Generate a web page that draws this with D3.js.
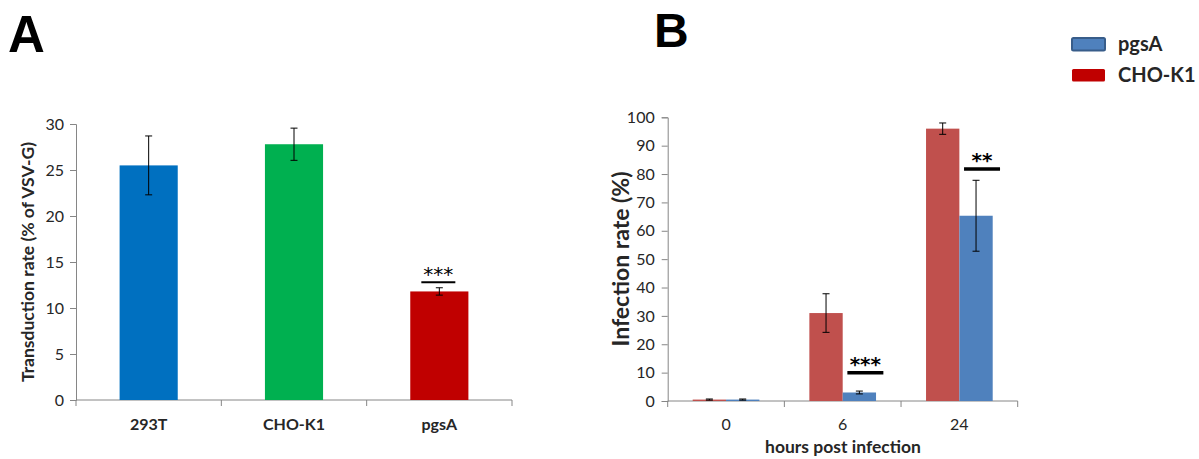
<!DOCTYPE html>
<html>
<head>
<meta charset="utf-8">
<script src="https://cdn.jsdelivr.net/npm/d3@7"></script>
<style>
  body { margin: 0; background: #fff; }
  svg { display: block; font-family: Lato, "Open Sans", sans-serif; }
</style>
</head>
<body>
<div class="chart"></div>
<script>
// panel A data
var cellLines = ["293T", "CHO-K1", "pgsA"];
var transduction = [25.5, 27.8, 11.8];
var transductionErr = [3.2, 1.75, 0.4];
var cellColors = ["#0070C0", "#00B050", "#C00000"];
var ticksA = [0, 5, 10, 15, 20, 25, 30];

// panel B data
var hours = ["0", "6", "24"];
var seriesB = ["CHO-K1", "pgsA"];
var choRate = [0.5, 31, 96];
var choErr = [0.2, 6.8, 2];
var pgsaRate = [0.5, 3, 65.3];
var pgsaErr = [0.2, 0.5, 12.5];
var ticksB = [0, 10, 20, 30, 40, 50, 60, 70, 80, 90, 100];

// significance marks: [category, label, y]
var sigA = [["pgsA", "***", 12.8]];
var sigB = [["6", "***", 10], ["24", "**", 81.8]];

var svgWidth = 1199;
var svgHeight = 459;
var axisColor = "#868686";
var textColor = "#262626";
var starFont = "DejaVu Sans, sans-serif";

var svg = d3.select(".chart")
    .append("svg")
    .attr("width", svgWidth)
    .attr("height", svgHeight);

// ---------- panel A ----------
var xA = d3.scaleBand()
    .domain(cellLines)
    .range([76, 512])
    .paddingInner(0.6)
    .paddingOuter(0.3);

var yA = d3.scaleLinear()
    .domain([0, 30])
    .range([400, 124]);

var gA = svg.append("g");

gA.append("text")
    .attr("x", 8)
    .attr("y", 52)
    .attr("font-family", "Liberation Sans, Arial, sans-serif")
    .attr("font-weight", "bold")
    .attr("font-size", "51px")
    .attr("fill", "#000")
    .text("A");

var leftA = gA.append("g")
    .attr("transform", "translate(76,0)")
    .call(d3.axisLeft(yA).tickValues(ticksA).tickSize(6).tickPadding(6));
leftA.selectAll("path, line").attr("stroke", axisColor);
leftA.selectAll("text").attr("font-size", "16px").attr("fill", textColor).attr("font-family", "Lato, sans-serif");

gA.append("line")
    .attr("x1", 76).attr("x2", 512)
    .attr("y1", yA(0)).attr("y2", yA(0))
    .attr("stroke", axisColor);

// category boundary ticks
var stepA = xA.step();
gA.selectAll(".xtickA")
    .data(d3.range(cellLines.length + 1))
    .enter()
    .append("line")
    .attr("x1", d => 76 + d * stepA)
    .attr("x2", d => 76 + d * stepA)
    .attr("y1", yA(0))
    .attr("y2", yA(0) + 6)
    .attr("stroke", axisColor);

gA.selectAll(".barA")
    .data(cellLines)
    .enter()
    .append("rect")
    .attr("x", d => xA(d))
    .attr("y", (d, i) => yA(transduction[i]))
    .attr("width", xA.bandwidth())
    .attr("height", (d, i) => yA(0) - yA(transduction[i]))
    .attr("fill", (d, i) => cellColors[i]);

cellLines.forEach(function(c, i) {
    var cx = xA(c) + xA.bandwidth() / 2;
    var lo = yA(transduction[i] - transductionErr[i]);
    var hi = yA(transduction[i] + transductionErr[i]);
    gA.append("line").attr("x1", cx).attr("x2", cx).attr("y1", lo).attr("y2", hi).attr("stroke", "#000");
    gA.append("line").attr("x1", cx - 3.5).attr("x2", cx + 3.5).attr("y1", lo).attr("y2", lo).attr("stroke", "#000");
    gA.append("line").attr("x1", cx - 3.5).attr("x2", cx + 3.5).attr("y1", hi).attr("y2", hi).attr("stroke", "#000");
});

gA.selectAll(".catA")
    .data(cellLines)
    .enter()
    .append("text")
    .attr("x", d => xA(d) + xA.bandwidth() / 2)
    .attr("y", 430)
    .attr("text-anchor", "middle")
    .attr("font-size", "16px")
    .attr("font-weight", "bold")
    .attr("fill", textColor)
    .text(d => d);

gA.append("text")
    .attr("transform", "translate(34," + 262 + ") rotate(-90)")
    .attr("text-anchor", "middle")
    .attr("font-size", "17.5px")
    .attr("font-weight", "bold")
    .attr("fill", textColor)
    .text("Transduction rate (% of VSV-G)");

sigA.forEach(function(s) {
    var cx = xA(s[0]) + xA.bandwidth() / 2 - 1;
    gA.append("line")
        .attr("x1", cx - 17).attr("x2", cx + 17)
        .attr("y1", yA(s[2])).attr("y2", yA(s[2]))
        .attr("stroke", "#000").attr("stroke-width", 2);
    gA.append("text")
        .attr("x", cx).attr("y", yA(s[2]) - 1)
        .attr("text-anchor", "middle")
        .attr("font-family", starFont)
        .attr("font-size", "20px")
        .attr("fill", "#000")
        .text(s[1]);
});

// ---------- panel B ----------
var xB = d3.scaleBand()
    .domain(hours)
    .range([667.7, 1017.7])
    .padding(0);

var xSub = d3.scaleBand()
    .domain(seriesB)
    .range([0, xB.bandwidth()])
    .paddingInner(0)
    .paddingOuter(0.75);

var yB = d3.scaleLinear()
    .domain([0, 100])
    .range([401, 117.3]);

var colorB = {"CHO-K1": "#C0504D", "pgsA": "#4F81BD"};
var valsB = {"CHO-K1": choRate, "pgsA": pgsaRate};
var errsB = {"CHO-K1": choErr, "pgsA": pgsaErr};

var gB = svg.append("g");

gB.append("text")
    .attr("x", 654)
    .attr("y", 47)
    .attr("font-family", "Liberation Sans, Arial, sans-serif")
    .attr("font-weight", "bold")
    .attr("font-size", "48px")
    .attr("fill", "#000")
    .text("B");

var leftB = gB.append("g")
    .attr("transform", "translate(667.7,0)")
    .call(d3.axisLeft(yB).tickValues(ticksB).tickSize(6).tickPadding(7));
leftB.selectAll("path, line").attr("stroke", axisColor);
leftB.selectAll("text").attr("font-size", "16px").attr("fill", textColor).attr("font-family", "Lato, sans-serif");

gB.append("line")
    .attr("x1", 667.7).attr("x2", 1017.7)
    .attr("y1", yB(0)).attr("y2", yB(0))
    .attr("stroke", axisColor);

gB.selectAll(".xtickB")
    .data(d3.range(hours.length + 1))
    .enter()
    .append("line")
    .attr("x1", d => 667.7 + d * xB.step())
    .attr("x2", d => 667.7 + d * xB.step())
    .attr("y1", yB(0))
    .attr("y2", yB(0) + 6)
    .attr("stroke", axisColor);

seriesB.forEach(function(s) {
    gB.selectAll(".bar-" + s)
        .data(hours)
        .enter()
        .append("rect")
        .attr("x", d => xB(d) + xSub(s))
        .attr("y", (d, i) => yB(valsB[s][i]))
        .attr("width", xSub.bandwidth())
        .attr("height", (d, i) => yB(0) - yB(valsB[s][i]))
        .attr("fill", colorB[s]);

    hours.forEach(function(h, i) {
        var cx = xB(h) + xSub(s) + xSub.bandwidth() / 2;
        var lo = yB(valsB[s][i] - errsB[s][i]);
        var hi = yB(valsB[s][i] + errsB[s][i]);
        gB.append("line").attr("x1", cx).attr("x2", cx).attr("y1", lo).attr("y2", hi).attr("stroke", "#000");
        gB.append("line").attr("x1", cx - 3.5).attr("x2", cx + 3.5).attr("y1", lo).attr("y2", lo).attr("stroke", "#000");
        gB.append("line").attr("x1", cx - 3.5).attr("x2", cx + 3.5).attr("y1", hi).attr("y2", hi).attr("stroke", "#000");
    });
});

sigB.forEach(function(s) {
    var cx = xB(s[0]) + xSub("pgsA") + xSub.bandwidth() / 2 + 6;
    gB.append("line")
        .attr("x1", cx - 18).attr("x2", cx + 18)
        .attr("y1", yB(s[2])).attr("y2", yB(s[2]))
        .attr("stroke", "#000").attr("stroke-width", 3.5);
    gB.append("text")
        .attr("x", cx).attr("y", yB(s[2]) - 2)
        .attr("text-anchor", "middle")
        .attr("font-family", starFont)
        .attr("font-size", "20px")
        .attr("font-weight", "bold")
        .attr("fill", "#000")
        .text(s[1]);
});

gB.selectAll(".catB")
    .data(hours)
    .enter()
    .append("text")
    .attr("x", d => xB(d) + xB.bandwidth() / 2)
    .attr("y", 430)
    .attr("text-anchor", "middle")
    .attr("font-size", "16px")
    .attr("fill", textColor)
    .text(d => d);

gB.append("text")
    .attr("x", 843)
    .attr("y", 453)
    .attr("text-anchor", "middle")
    .attr("font-size", "17.5px")
    .attr("font-weight", "bold")
    .attr("fill", textColor)
    .text("hours post infection");

gB.append("text")
    .attr("transform", "translate(629,259) rotate(-90)")
    .attr("text-anchor", "middle")
    .attr("font-size", "23px")
    .attr("font-weight", "bold")
    .attr("fill", textColor)
    .text("Infection rate (%)");

// legend
var legend = [["pgsA", "#4F81BD", "#385D8A"], ["CHO-K1", "#C00000", "none"]];
var lg = gB.selectAll(".legend")
    .data(legend)
    .enter()
    .append("g")
    .attr("transform", (d, i) => "translate(1072," + (38 + i * 31) + ")");
lg.append("rect")
    .attr("width", 33)
    .attr("height", 12.5)
    .attr("rx", 1.5)
    .attr("fill", d => d[1])
    .attr("stroke", d => d[2])
    .attr("stroke-width", 2);
lg.append("text")
    .attr("x", 46)
    .attr("y", 13)
    .attr("font-size", "20px")
    .attr("font-weight", "bold")
    .attr("fill", textColor)
    .text(d => d[0]);
</script>
</body>
</html>
